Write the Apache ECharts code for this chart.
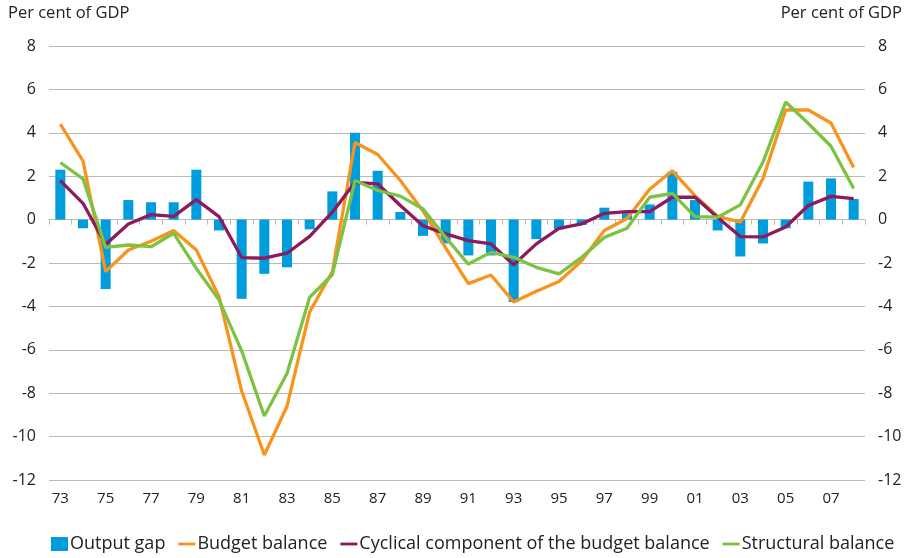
<html>
  <head>
    <meta charset="utf-8" />
    <script src="https://cdn.jsdelivr.net/npm/echarts@6/dist/echarts.min.js"></script>
  </head>
  <body>
    <style>
      html,
      body,
      #main {
        width: 100%;
        height: 100%;
        margin: 0;
        background: #fff;
      }
    </style>
    <div id="main"></div>
    <script>
      const years = [
        "73", "74", "75", "76", "77", "78", "79", "80", "81", "82", "83", "84",
        "85", "86", "87", "88", "89", "90", "91", "92", "93", "94", "95", "96",
        "97", "98", "99", "00", "01", "02", "03", "04", "05", "06", "07", "08",
      ];

      const outputGap = [
        2.3, -0.4, -3.2, 0.9, 0.8, 0.8, 2.3, -0.5, -3.65, -2.5, -2.2, -0.45,
        1.3, 4.0, 2.25, 0.35, -0.75, -1.1, -1.65, -1.65, -3.8, -0.9, -0.45, -0.25,
        0.55, 0.3, 0.7, 2.2, 0.9, -0.5, -1.7, -1.1, -0.4, 1.75, 1.9, 0.95,
      ];

      const budgetBalance = [
        4.4, 2.7, -2.4, -1.4, -1.0, -0.5, -1.4, -3.55, -7.9, -10.85, -8.6, -4.25,
        -2.4, 3.55, 3.0, 1.8, 0.4, -1.3, -2.95, -2.55, -3.8, -3.3, -2.85, -1.9,
        -0.5, 0.05, 1.4, 2.25, 1.1, 0.15, -0.12, 1.9, 5.05, 5.05, 4.45, 2.4,
      ];

      const cyclical = [
        1.8, 0.75, -1.15, -0.2, 0.23, 0.15, 0.92, 0.14, -1.75, -1.78, -1.55, -0.77,
        0.34, 1.72, 1.65, 0.65, -0.28, -0.66, -0.97, -1.12, -2.08, -1.12, -0.4, -0.2,
        0.29, 0.37, 0.37, 1.03, 1.03, 0.1, -0.78, -0.8, -0.34, 0.65, 1.07, 0.97,
      ];

      const structural = [
        2.63, 1.88, -1.28, -1.17, -1.25, -0.63, -2.25, -3.7, -6.05, -9.05, -7.09, -3.58,
        -2.54, 1.8, 1.34, 1.08, 0.49, -0.82, -2.05, -1.51, -1.74, -2.2, -2.5, -1.74,
        -0.82, -0.4, 1.03, 1.21, 0.14, 0.11, 0.68, 2.65, 5.42, 4.43, 3.38, 1.43,
      ];

      const font = "'Open Sans', sans-serif";
      const gridColor = "#b9b9b9";
      const lineIcon = "path://M0,0H18V3H0Z";

      var chart = echarts.init(document.getElementById("main"));

      var option = {
        animation: false,
        textStyle: { fontFamily: font },
        grid: { left: 49, right: 45, top: 46, bottom: 78 },
        graphic: [
          {
            type: "text",
            left: 8,
            top: 5,
            style: { text: "Per cent of GDP", font: "16.5px " + font, fill: "#222" },
          },
          {
            type: "text",
            right: 8,
            top: 5,
            style: { text: "Per cent of GDP", font: "16.5px " + font, fill: "#222" },
          },
        ],
        legend: {
          bottom: 0,
          left: 46,
          itemGap: 13,
          itemWidth: 17,
          itemHeight: 14,
          textStyle: { fontSize: 18, color: "#222", fontFamily: font, padding: [0, 0, 0, -3] },
          data: [
            { name: "Output gap", icon: "rect" },
            { name: "Budget balance", icon: lineIcon },
            { name: "Cyclical component of the budget balance", icon: lineIcon },
            { name: "Structural balance", icon: lineIcon },
          ],
        },
        xAxis: [
          {
            type: "category",
            data: years,
            position: "bottom",
            axisLine: { show: false },
            axisTick: { show: false },
            axisLabel: {
              interval: 1,
              margin: 11,
              fontSize: 15,
              color: "#222",
              fontFamily: font,
            },
          },
          {
            type: "category",
            data: years,
            axisLine: { onZero: true, lineStyle: { color: gridColor, width: 1 } },
            axisTick: {
              show: true,
              inside: true,
              interval: 0,
              length: 5,
              lineStyle: { color: gridColor },
            },
            axisLabel: { show: false },
          },
        ],
        yAxis: [
          {
            type: "value",
            position: "left",
            min: -12,
            max: 8,
            interval: 2,
            axisLine: { show: false },
            axisTick: { show: false },
            axisLabel: { margin: 13, fontSize: 16, color: "#222", fontFamily: font },
            splitLine: { lineStyle: { color: gridColor, width: 1.2 } },
          },
          {
            type: "value",
            position: "right",
            min: -12,
            max: 8,
            interval: 2,
            axisLine: { show: false },
            axisTick: { show: false },
            axisLabel: { margin: 13, fontSize: 16, color: "#222", fontFamily: font },
            splitLine: { show: false },
          },
        ],
        series: [
          {
            name: "Output gap",
            type: "bar",
            data: outputGap,
            barWidth: 10,
            itemStyle: { color: "#009ddc" },
            z: 1,
          },
          {
            name: "Budget balance",
            type: "line",
            data: budgetBalance,
            symbol: "none",
            lineStyle: { color: "#f7941d", width: 3.3 },
            itemStyle: { color: "#f7941d" },
            z: 3,
          },
          {
            name: "Cyclical component of the budget balance",
            type: "line",
            data: cyclical,
            symbol: "none",
            lineStyle: { color: "#8e1a5e", width: 3.3 },
            itemStyle: { color: "#8e1a5e" },
            z: 4,
          },
          {
            name: "Structural balance",
            type: "line",
            data: structural,
            symbol: "none",
            lineStyle: { color: "#7dc242", width: 3.3 },
            itemStyle: { color: "#7dc242" },
            z: 5,
          },
        ],
      };

      chart.setOption(option);

      window.onresize = chart.resize;
    </script>
  </body>
</html>
